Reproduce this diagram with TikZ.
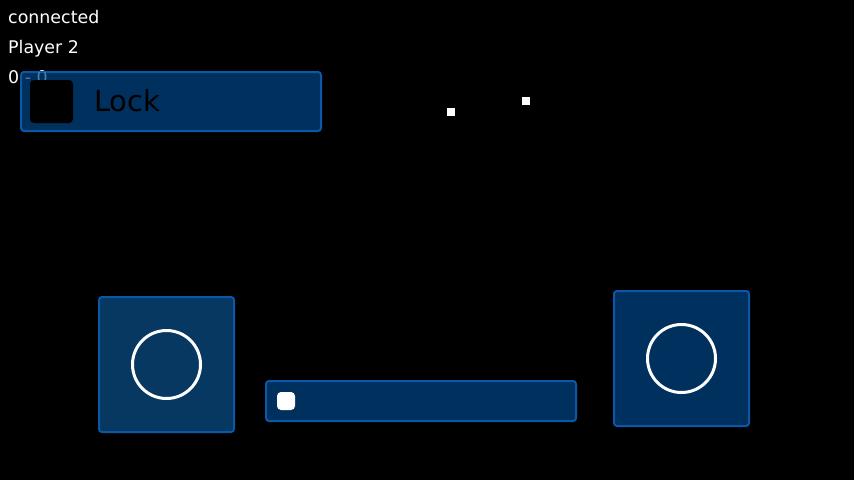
\documentclass[tikz,border=0pt]{standalone}
\usepackage{fontspec}
\setmainfont{DejaVu Sans}
\begin{document}
\begin{tikzpicture}[x=1pt,y=-1pt,
  panel/.style={draw=bordblue,line width=2pt,rounded corners=3pt,inner sep=0pt},
  stick/.style={draw=white,line width=3pt,circle,minimum size=68pt,inner sep=0pt},
  info/.style={anchor=base west,inner sep=0pt,text=white,font=\fontsize{17.4}{20}\selectfont},
  dot/.style={fill=white,minimum size=8pt,inner sep=0pt}]
\definecolor{bordblue}{HTML}{0A58A8}
\definecolor{panelblue}{HTML}{00305E}
\definecolor{leftblue}{HTML}{073862}
\definecolor{dimtext}{HTML}{4A7CB4}
\fill[black] (0,0) rectangle (854,480);
\useasboundingbox (0,0) rectangle (854,480);
% status texts
\node[info] (status) at (8,23) {connected};
\node[info] (player) at (8,53) {Player 2};
\node[info] (score) at (8,83) {0 - 0};
% lock panel
\node[panel,fill=panelblue,minimum width=300pt,minimum height=59pt] (lock) at (171,101.5) {};
\begin{scope}
  \clip[rounded corners=3pt] (21,72) rectangle (321,131);
  \node[info,text=dimtext] (scoredim) at (8,83) {0 - 0};
\end{scope}
\node[fill=black,rounded corners=4pt,minimum size=43pt,inner sep=0pt] (check) at (51.5,101.5) {};
\node[anchor=base west,inner sep=0pt,text=black,font=\fontsize{29}{34}\selectfont] (locklabel) at (94,111) {Lock};
% dots
\node[dot] (dotA) at (451,112) {};
\node[dot] (dotB) at (526,101) {};
% left stick
\node[panel,fill=leftblue,minimum width=135pt,minimum height=135pt] (leftpad) at (166.5,364.5) {};
\node[stick] (leftring) at (leftpad.center) {};
% right stick
\node[panel,fill=panelblue,minimum width=135pt,minimum height=135pt] (rightpad) at (681.5,358.5) {};
\node[stick] (rightring) at (rightpad.center) {};
% slider
\node[panel,fill=panelblue,minimum width=310pt,minimum height=40pt] (slider) at (421,401) {};
\node[fill=white,rounded corners=4pt,minimum size=18pt,inner sep=0pt] (thumb) at (286,401) {};
\end{tikzpicture}
\end{document}
